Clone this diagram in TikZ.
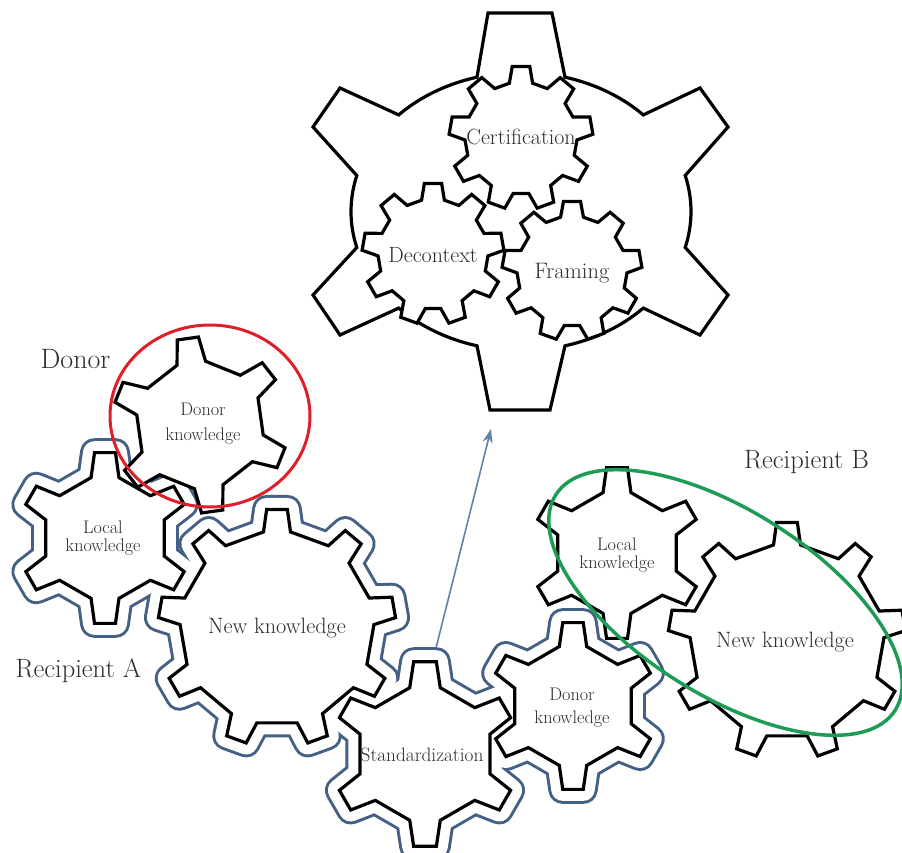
\documentclass[tikz,border=0pt]{standalone}
\usepackage{tikz}
\usetikzlibrary{arrows.meta}
\definecolor{blueA}{RGB}{68,96,132}
\definecolor{arrowc}{RGB}{96,128,170}
\definecolor{redc}{RGB}{222,30,40}
\definecolor{greenc}{RGB}{30,155,85}
\definecolor{txt}{RGB}{45,45,45}
% #1 cx, #2 cy, #3 teeth, #4 tip radius, #5 root radius, #6 tip half-angle, #7 base half-angle, #8 phase, #9 style
\newcommand\gear[9]{%
  \draw[#9] ({#1+#5*cos(180/#3-#7)*cos(#8-180/#3)},{#2+#5*cos(180/#3-#7)*sin(#8-180/#3)})
  \foreach \k in {1,...,#3}{%
    -- ({#1+#5*cos(#8+(\k-1)*360/#3-#7)},{#2+#5*sin(#8+(\k-1)*360/#3-#7)})
    -- ({#1+#4*cos(#8+(\k-1)*360/#3-#6)},{#2+#4*sin(#8+(\k-1)*360/#3-#6)})
    -- ({#1+#4*cos(#8+(\k-1)*360/#3+#6)},{#2+#4*sin(#8+(\k-1)*360/#3+#6)})
    -- ({#1+#5*cos(#8+(\k-1)*360/#3+#7)},{#2+#5*sin(#8+(\k-1)*360/#3+#7)})
  } -- cycle;}
\tikzset{
  gearline/.style={draw=black, fill=white, line width=3.2, line join=miter, miter limit=4},
  blueout/.style={draw=blueA, fill=blueA, line width=29, line join=round},
  bluein/.style={draw=white, fill=white, line width=23, line join=round},
  gtext/.style={text=txt, align=center, inner sep=0pt},
  biglabel/.style={text=txt, inner sep=0pt, anchor=base, font=\fontsize{26.5}{30}\selectfont},
}
\begin{document}
\begin{tikzpicture}[x=1pt, y=-1pt]
\useasboundingbox (0,0) rectangle (902,853);
% Recipient A contour (outline of the grown union of its gears)
\gear{105}{538}{6}{86}{62}{7}{13}{-90}{blueout}
\gear{277}{628}{9}{119}{97}{5}{8}{-90}{blueout}
\gear{425}{754}{6}{93}{68}{7}{13}{-90}{blueout}
\gear{573}{706}{6}{84}{61}{7}{13}{-90}{blueout}
\gear{105}{538}{6}{86}{62}{7}{13}{-90}{bluein}
\gear{277}{628}{9}{119}{97}{5}{8}{-90}{bluein}
\gear{425}{754}{6}{93}{68}{7}{13}{-90}{bluein}
\gear{573}{706}{6}{84}{61}{7}{13}{-90}{bluein}
% big gear
\draw[gearline] (565,77.2) arc[start angle=-75,end angle=-44,x radius=170,y radius=139]
  -- (700,88) -- (728,127) -- (685.2,175.5) arc[start angle=-15,end angle=15,x radius=170,y radius=139]
  -- (728,295) -- (700,335) -- (643.3,308.1) arc[start angle=44,end angle=75,x radius=170,y radius=139]
  -- (550,410) -- (490,410) -- (477,345.8) arc[start angle=105,end angle=136,x radius=170,y radius=139]
  -- (340,335) -- (313,295) -- (356.8,247.5) arc[start angle=165,end angle=195,x radius=170,y radius=139]
  -- (313,127) -- (340,88) -- (398.7,114.9) arc[start angle=224,end angle=255,x radius=170,y radius=139]
  -- (488,13) -- (552,13) -- cycle;
% inner gears
\gear{521}{138}{9}{72}{56}{7}{12}{-90}{gearline}
\gear{433}{254}{9}{71}{55}{7}{12}{-90}{gearline}
\gear{572}{271}{9}{70}{55}{7}{12}{-90}{gearline}
% lower gears
\gear{105}{538}{6}{86}{62}{7}{13}{-90}{gearline}
\gear{200}{425}{6}{88}{64}{7}{13}{-98}{gearline}
\gear{277}{628}{9}{119}{97}{5}{8}{-90}{gearline}
\gear{425}{754}{6}{93}{68}{7}{13}{-90}{gearline}
\gear{573}{706}{6}{84}{61}{7}{13}{-90}{gearline}
\gear{787}{641}{9}{119}{97}{5}{8}{-90}{gearline}
\gear{617}{553}{6}{86}{62}{7}{13}{-90}{gearline}
% group outlines
\draw[redc, line width=3] (210,416) ellipse[x radius=100, y radius=91];
\draw[greenc, line width=3.5, rotate around={-32.4:(725.5,602.5)}] (725.5,602.5) ellipse[x radius=201, y radius=92];
% arrow
\coordinate (arrS) at (436,648);
\coordinate (arrE) at (491,429);
\draw[arrowc, line width=1.6, -{Stealth[length=14pt,width=10pt]}] (arrS) -- (arrE);
% texts
\node[gtext, font=\fontsize{22}{24}\selectfont] (cert) at (521,137) {Certification};
\node[gtext, font=\fontsize{22}{24}\selectfont] (decon) at (433,255) {Decontext};
\node[gtext, font=\fontsize{22.4}{24}\selectfont] (fram) at (572,273) {Framing};
\node[gtext, font=\fontsize{18.2}{25}\selectfont] (donk) at (203,424) {Donor\\knowledge};
\node[gtext, font=\fontsize{18.2}{18.5}\selectfont] (lokA) at (103,538) {Local\\knowledge};
\node[gtext, font=\fontsize{22.2}{24}\selectfont] (nkA) at (277,628) {New knowledge};
\node[gtext, font=\fontsize{19.3}{22}\selectfont] (std) at (422,755) {Standardization};
\node[gtext, font=\fontsize{18.2}{23}\selectfont] (donkB) at (572,708) {Donor\\knowledge};
\node[gtext, font=\fontsize{18.2}{18.5}\selectfont] (lokB) at (617,555) {Local\\knowledge};
\node[gtext, font=\fontsize{22.2}{24}\selectfont] (nkB) at (785,642) {New knowledge};
\node[biglabel, font=\fontsize{28}{30}\selectfont] (donor) at (75.5,368) {Donor};
\node[biglabel] (recA) at (78.5,677) {Recipient A};
\node[biglabel] (recB) at (806.5,468) {Recipient B};
\end{tikzpicture}
\end{document}
